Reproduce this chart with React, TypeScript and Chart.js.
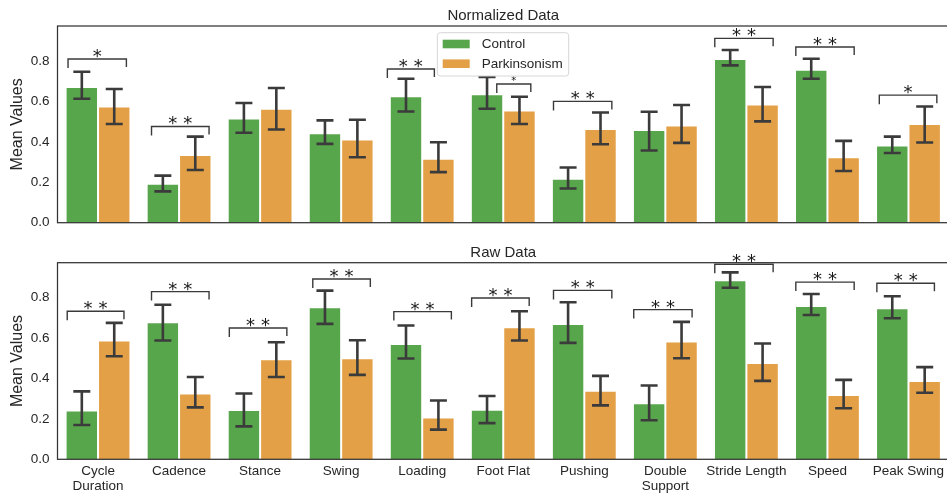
import React, { useEffect, useRef } from 'react';
import { Chart, registerables } from 'chart.js';
Chart.register(...registerables);

const FONT = '"Liberation Sans", Arial, Helvetica, sans-serif';
const STAR_FONT = '"DejaVu Sans", sans-serif';
const TEXT = '#262626';
const GREEN = '#58a64b';
const ORANGE = '#e4a046';

const categories: (string | string[])[] = [
  ['Cycle', 'Duration'], 'Cadence', 'Stance', 'Swing', 'Loading', 'Foot Flat',
  'Pushing', ['Double', 'Support'], 'Stride Length', 'Speed', 'Peak Swing',
];
const seriesNames = ['Control', 'Parkinsonism'];
const yTicks = [0, 0.2, 0.4, 0.6, 0.8];

// Normalized data
const normControl = [0.671, 0.193, 0.516, 0.443, 0.625, 0.636, 0.218, 0.458, 0.810, 0.757, 0.382];
const normControlLow = [0.613, 0.155, 0.445, 0.390, 0.550, 0.564, 0.169, 0.357, 0.778, 0.712, 0.345];
const normControlHigh = [0.747, 0.233, 0.592, 0.506, 0.712, 0.721, 0.273, 0.549, 0.854, 0.811, 0.426];
const normPark = [0.575, 0.335, 0.564, 0.411, 0.316, 0.555, 0.463, 0.481, 0.585, 0.324, 0.488];
const normParkLow = [0.488, 0.261, 0.461, 0.324, 0.250, 0.488, 0.388, 0.395, 0.501, 0.256, 0.397];
const normParkHigh = [0.661, 0.426, 0.666, 0.509, 0.398, 0.623, 0.545, 0.582, 0.671, 0.405, 0.575];

// Raw data
const rawControl = [0.242, 0.678, 0.244, 0.752, 0.571, 0.245, 0.670, 0.278, 0.886, 0.759, 0.747];
const rawControlLow = [0.170, 0.588, 0.163, 0.670, 0.499, 0.179, 0.576, 0.193, 0.849, 0.714, 0.698];
const rawControlHigh = [0.336, 0.765, 0.326, 0.835, 0.662, 0.313, 0.777, 0.365, 0.925, 0.818, 0.807];
const rawPark = [0.588, 0.326, 0.495, 0.500, 0.207, 0.653, 0.339, 0.583, 0.476, 0.318, 0.387];
const rawParkLow = [0.510, 0.257, 0.407, 0.418, 0.147, 0.588, 0.267, 0.500, 0.388, 0.253, 0.329];
const rawParkHigh = [0.675, 0.407, 0.579, 0.589, 0.291, 0.733, 0.413, 0.680, 0.573, 0.393, 0.456];

// Significance annotations (category index, bracket height, label)
const normSigCat = [0, 1, 4, 5, 6, 8, 9, 10];
const normSigY = [0.810, 0.476, 0.760, 0.686, 0.600, 0.912, 0.869, 0.631];
const normSigLabel = ['*', '**', '**', '*', '**', '**', '**', '*'];
const normSigFrom = [-0.37, -0.34, -0.43, -0.08, -0.38, -0.39, -0.39, -0.36];
const normSigTo = [0.35, 0.37, 0.15, 0.34, 0.34, 0.33, 0.33, 0.35];
const normSigSmall = [false, false, false, true, false, false, false, false];

const rawSigCat = [0, 1, 2, 3, 4, 5, 6, 7, 8, 9, 10];
const rawSigY = [0.733, 0.830, 0.650, 0.892, 0.731, 0.798, 0.836, 0.741, 0.965, 0.877, 0.871];
const rawSigLabel = ['**', '**', '**', '**', '**', '**', '**', '**', '**', '**', '**'];
const rawSigFrom = [-0.38, -0.34, -0.38, -0.35, -0.35, -0.39, -0.38, -0.39, -0.39, -0.39, -0.39];
const rawSigTo = [0.32, 0.37, 0.33, 0.36, 0.36, 0.32, 0.34, 0.33, 0.33, 0.33, 0.32];
const rawSigSmall = rawSigCat.map(() => false);

const overlayPlugin = {
  id: 'overlay',
  afterDatasetsDraw(chart: any) {
    const ctx = chart.ctx;
    const y = chart.scales.y;
    chart.data.datasets.forEach((ds: any, di: number) => {
      const meta = chart.getDatasetMeta(di);
      meta.data.forEach((bar: any, i: number) => {
        const x = bar.x;
        const yl = y.getPixelForValue(ds.errLow[i]);
        const yh = y.getPixelForValue(ds.errHigh[i]);
        ctx.save();
        ctx.strokeStyle = '#3b3b3b';
        ctx.lineWidth = 2.6;
        ctx.beginPath();
        ctx.moveTo(x, yl); ctx.lineTo(x, yh);
        ctx.moveTo(x - 8.5, yl); ctx.lineTo(x + 8.5, yl);
        ctx.moveTo(x - 8.5, yh); ctx.lineTo(x + 8.5, yh);
        ctx.stroke();
        ctx.restore();
      });
    });
  },
  afterDraw(chart: any) {
    const ctx = chart.ctx;
    const a = chart.chartArea;
    const xs = chart.scales.x;
    const ys = chart.scales.y;
    const o = chart.options.plugins.overlay;
    ctx.save();
    ctx.strokeStyle = '#333333';
    ctx.lineWidth = 1.25;
    ctx.strokeRect(a.left, a.top, a.right - a.left, a.bottom - a.top);
    ctx.restore();
    const cw = xs.getPixelForValue(1) - xs.getPixelForValue(0);
    o.sigCat.forEach((c: number, k: number) => {
      const cx = xs.getPixelForValue(c);
      const x1 = cx + o.sigFrom[k] * cw;
      const x2 = cx + o.sigTo[k] * cw;
      const by = ys.getPixelForValue(o.sigY[k]);
      ctx.save();
      ctx.strokeStyle = '#3a3a3a';
      ctx.lineWidth = 1.4;
      ctx.beginPath();
      ctx.moveTo(x1, by + 9); ctx.lineTo(x1, by); ctx.lineTo(x2, by); ctx.lineTo(x2, by + 8);
      ctx.stroke();
      const small = o.sigSmall[k];
      ctx.fillStyle = '#1a1a1a';
      ctx.font = (small ? '10px ' : '18px ') + STAR_FONT;
      ctx.textAlign = 'center';
      ctx.textBaseline = 'alphabetic';
      const sp = small ? 0 : 6;
      (ctx as any).letterSpacing = sp + 'px';
      ctx.fillText(o.sigLabel[k], (x1 + x2) / 2 + sp / 2, by + (small ? 0 : 3));
      ctx.restore();
    });
    if (o.legend) {
      ctx.save();
      const lx = 437.3, ly = 32.7, lw = 131.4, lh = 43.3, r = 3;
      ctx.fillStyle = 'rgba(255,255,255,0.85)';
      ctx.strokeStyle = '#d6d6d6';
      ctx.lineWidth = 1;
      ctx.beginPath();
      ctx.moveTo(lx + r, ly);
      ctx.arcTo(lx + lw, ly, lx + lw, ly + lh, r);
      ctx.arcTo(lx + lw, ly + lh, lx, ly + lh, r);
      ctx.arcTo(lx, ly + lh, lx, ly, r);
      ctx.arcTo(lx, ly, lx + lw, ly, r);
      ctx.closePath();
      ctx.fill();
      ctx.stroke();
      const colors = [GREEN, ORANGE];
      const rows = [44, 63.7];
      chart.data.datasets.forEach((ds: any, i: number) => {
        ctx.fillStyle = colors[i];
        ctx.fillRect(442.7, rows[i] - 4.3, 27, 8.6);
        ctx.fillStyle = TEXT;
        ctx.font = '13.5px ' + FONT;
        ctx.textAlign = 'left';
        ctx.textBaseline = 'middle';
        ctx.fillText(ds.label, 481.7, rows[i] + 0.5);
      });
      ctx.restore();
    }
  },
};

function makeConfig(opts: any): any {
  return {
    type: 'bar',
    data: {
      labels: categories,
      datasets: [
        {
          label: seriesNames[0], data: opts.control, errLow: opts.controlLow, errHigh: opts.controlHigh,
          backgroundColor: GREEN, borderColor: 'rgba(255,255,255,0.55)', borderWidth: 1,
          categoryPercentage: 0.8, barPercentage: 1.0,
        },
        {
          label: seriesNames[1], data: opts.park, errLow: opts.parkLow, errHigh: opts.parkHigh,
          backgroundColor: ORANGE, borderColor: 'rgba(255,255,255,0.55)', borderWidth: 1,
          categoryPercentage: 0.8, barPercentage: 1.0,
        },
      ],
    },
    options: {
      responsive: false,
      animation: false,
      devicePixelRatio: 1,
      layout: { padding: { left: 0, right: 0, top: 0, bottom: opts.padBottom } },
      plugins: {
        legend: { display: false },
        tooltip: { enabled: false },
        title: {
          display: true, text: opts.title, color: TEXT, fullSize: false,
          font: { family: FONT, size: 15, weight: 'normal', lineHeight: 1.2 },
          padding: { top: opts.titleTop, bottom: opts.titleBottom },
        },
        overlay: {
          sigCat: opts.sigCat, sigY: opts.sigY, sigLabel: opts.sigLabel,
          sigFrom: opts.sigFrom, sigTo: opts.sigTo, sigSmall: opts.sigSmall, legend: opts.legend,
        },
      },
      scales: {
        x: {
          type: 'category', offset: true,
          grid: { display: false, drawTicks: false },
          border: { display: false },
          ticks: {
            display: opts.showX, color: TEXT, autoSkip: false, maxRotation: 0, minRotation: 0,
            padding: 5, font: { family: FONT, size: 13.5, lineHeight: 1.1 },
          },
          afterFit: (s: any) => { s.height = opts.xHeight; s.paddingLeft = 0; s.paddingRight = 0; },
        },
        y: {
          min: 0, max: 0.973,
          grid: { display: false, drawTicks: false },
          border: { display: false },
          afterBuildTicks: (s: any) => { s.ticks = yTicks.map((v) => ({ value: v })); },
          ticks: {
            color: TEXT, padding: 8, font: { family: FONT, size: 13.5 },
            callback: (v: any) => Number(v).toFixed(1),
          },
          title: {
            display: true, text: 'Mean Values', color: TEXT,
            font: { family: FONT, size: 16 }, padding: { top: 8, bottom: 0 },
          },
          afterFit: (s: any) => { s.width = 57.5; s.paddingTop = 0; s.paddingBottom = 0; },
        },
      },
    },
    plugins: [overlayPlugin],
  };
}

function BarPanel(props: { top: number; height: number; cfg: any }) {
  const ref = useRef<HTMLCanvasElement>(null);
  useEffect(() => {
    const chart = new Chart(ref.current as HTMLCanvasElement, props.cfg);
    return () => chart.destroy();
  }, []);
  return (
    <div style={{ position: 'absolute', left: 0, top: props.top, width: 949, height: props.height }}>
      <canvas ref={ref} width={949} height={props.height} style={{ display: 'block' }} />
    </div>
  );
}

export default function App() {
  const topCfg = makeConfig({
    control: normControl, controlLow: normControlLow, controlHigh: normControlHigh,
    park: normPark, parkLow: normParkLow, parkHigh: normParkHigh,
    title: 'Normalized Data', titleTop: 7, titleBottom: 1, padBottom: 12.3, xHeight: 0, showX: false,
    sigCat: normSigCat, sigY: normSigY, sigLabel: normSigLabel, sigFrom: normSigFrom, sigTo: normSigTo,
    sigSmall: normSigSmall, legend: true,
  });
  const botCfg = makeConfig({
    control: rawControl, controlLow: rawControlLow, controlHigh: rawControlHigh,
    park: rawPark, parkLow: rawParkLow, parkHigh: rawParkHigh,
    title: 'Raw Data', titleTop: 9.3, titleBottom: 0.4, padBottom: 0, xHeight: 35.7, showX: true,
    sigCat: rawSigCat, sigY: rawSigY, sigLabel: rawSigLabel, sigFrom: rawSigFrom, sigTo: rawSigTo,
    sigSmall: rawSigSmall, legend: false,
  });
  return (
    <div style={{ position: 'fixed', left: 0, top: 0, width: 947, height: 495, overflow: 'hidden', background: '#ffffff' }}>
      <BarPanel top={0} height={235} cfg={topCfg} />
      <BarPanel top={235} height={260} cfg={botCfg} />
    </div>
  );
}
